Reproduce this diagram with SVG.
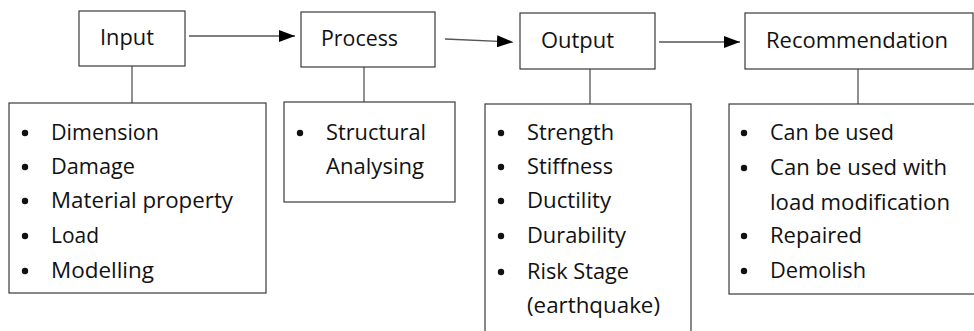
<svg xmlns="http://www.w3.org/2000/svg" width="974" height="331" viewBox="0 0 974 331">
<style>
.box{fill:#fff;stroke:#3a3a3a;stroke-width:1.2}
.ln{stroke:#555;stroke-width:1.3;fill:none}
.t{font-family:"Open Sans","Noto Sans","Liberation Sans",sans-serif;font-size:21px;fill:#111}
.b{fill:#111}
</style>
<defs>
<marker id="ah" viewBox="0 0 10 10" refX="10" refY="5" markerWidth="16" markerHeight="12" markerUnits="userSpaceOnUse" orient="auto" preserveAspectRatio="none">
<path d="M0,0 L10,5 L0,10 Z" fill="#000"/>
</marker>
</defs>
<g id="connectors">
<line class="ln" x1="189" y1="36" x2="295" y2="36" marker-end="url(#ah)"/>
<line class="ln" x1="445" y1="39" x2="513" y2="42" marker-end="url(#ah)"/>
<line class="ln" x1="659" y1="42" x2="740" y2="42" marker-end="url(#ah)"/>
<line class="ln" x1="132" y1="66" x2="132" y2="103"/>
<line class="ln" x1="364" y1="67" x2="364" y2="102"/>
<line class="ln" x1="590" y1="69" x2="590" y2="104"/>
<line class="ln" x1="858" y1="69" x2="858" y2="104"/>
</g>
<g id="input">
<rect class="box" x="79" y="11" width="106" height="55"/>
<text class="t" x="100" y="45" textLength="54" lengthAdjust="spacingAndGlyphs">Input</text>
</g>
<g id="process">
<rect class="box" x="301" y="12" width="134" height="55"/>
<text class="t" x="321" y="46" textLength="77" lengthAdjust="spacingAndGlyphs">Process</text>
</g>
<g id="output">
<rect class="box" x="520" y="13" width="135" height="56"/>
<text class="t" x="541" y="48" textLength="73" lengthAdjust="spacingAndGlyphs">Output</text>
</g>
<g id="recommendation">
<rect class="box" x="745" y="13" width="228" height="56"/>
<text class="t" x="766" y="48" textLength="182" lengthAdjust="spacingAndGlyphs">Recommendation</text>
</g>
<g id="input-list">
<rect class="box" x="9" y="103" width="257" height="190"/>
<circle class="b" cx="25" cy="133" r="3.2"/>
<circle class="b" cx="25" cy="167" r="3.2"/>
<circle class="b" cx="25" cy="201" r="3.2"/>
<circle class="b" cx="25" cy="236" r="3.2"/>
<circle class="b" cx="25" cy="271" r="3.2"/>
<text class="t" x="51" y="140" textLength="108" lengthAdjust="spacingAndGlyphs">Dimension</text>
<text class="t" x="51" y="174" textLength="84" lengthAdjust="spacingAndGlyphs">Damage</text>
<text class="t" x="51" y="208" textLength="182" lengthAdjust="spacingAndGlyphs">Material property</text>
<text class="t" x="51" y="243" textLength="48" lengthAdjust="spacingAndGlyphs">Load</text>
<text class="t" x="51" y="278" textLength="103" lengthAdjust="spacingAndGlyphs">Modelling</text>
</g>
<g id="process-list">
<rect class="box" x="284" y="102" width="171" height="100"/>
<circle class="b" cx="300" cy="133" r="3.2"/>
<text class="t" x="326" y="140" textLength="100" lengthAdjust="spacingAndGlyphs">Structural</text>
<text class="t" x="326" y="174" textLength="98" lengthAdjust="spacingAndGlyphs">Analysing</text>
</g>
<g id="output-list">
<rect class="box" x="485" y="104" width="206" height="240"/>
<circle class="b" cx="501" cy="133" r="3.2"/>
<circle class="b" cx="501" cy="167" r="3.2"/>
<circle class="b" cx="501" cy="201" r="3.2"/>
<circle class="b" cx="501" cy="236" r="3.2"/>
<circle class="b" cx="501" cy="272" r="3.2"/>
<text class="t" x="527" y="140" textLength="87" lengthAdjust="spacingAndGlyphs">Strength</text>
<text class="t" x="527" y="174" textLength="86" lengthAdjust="spacingAndGlyphs">Stiffness</text>
<text class="t" x="527" y="208" textLength="84" lengthAdjust="spacingAndGlyphs">Ductility</text>
<text class="t" x="527" y="243" textLength="99" lengthAdjust="spacingAndGlyphs">Durability</text>
<text class="t" x="527" y="279" textLength="102" lengthAdjust="spacingAndGlyphs">Risk Stage</text>
<text class="t" x="527" y="313" textLength="133" lengthAdjust="spacingAndGlyphs">(earthquake)</text>
</g>
<g id="recommendation-list">
<rect class="box" x="729" y="104" width="260" height="190"/>
<circle class="b" cx="744" cy="133" r="3.2"/>
<circle class="b" cx="744" cy="168" r="3.2"/>
<circle class="b" cx="744" cy="236" r="3.2"/>
<circle class="b" cx="744" cy="271" r="3.2"/>
<text class="t" x="770" y="140" textLength="124" lengthAdjust="spacingAndGlyphs">Can be used</text>
<text class="t" x="770" y="175" textLength="177" lengthAdjust="spacingAndGlyphs">Can be used with</text>
<text class="t" x="770" y="210" textLength="180" lengthAdjust="spacingAndGlyphs">load modification</text>
<text class="t" x="770" y="243" textLength="92" lengthAdjust="spacingAndGlyphs">Repaired</text>
<text class="t" x="770" y="278" textLength="96" lengthAdjust="spacingAndGlyphs">Demolish</text>
</g>
</svg>
